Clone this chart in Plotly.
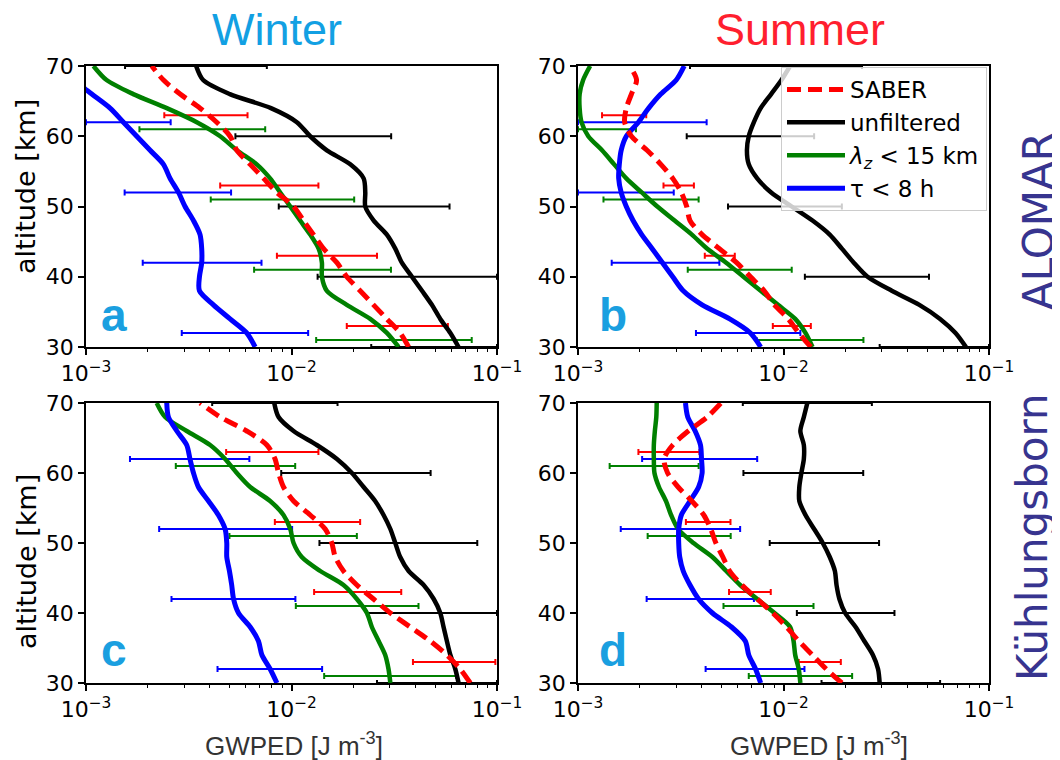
import numpy as np
import plotly.graph_objects as go

# altitude grid [km]
alt = [30, 32, 34, 36, 38, 40, 42, 44, 46, 48, 50, 52, 54, 56, 58, 60, 62, 64, 66, 68, 70]

# GWPED profiles, read as log10(GWPED [J m^-3]) from the log axis
# panel a: ALOMAR winter
a_saber = [-1.430, -1.471, -1.536, -1.601, -1.666, -1.731, -1.779, -1.844, -1.893, -1.942, -1.990,
           -2.071, -2.136, -2.201, -2.266, -2.299, -2.364, -2.445, -2.542, -2.623, -2.680]
a_unfilt = [-1.187, -1.227, -1.276, -1.317, -1.365, -1.414, -1.463, -1.495, -1.536, -1.600, -1.641,
            -1.641, -1.649, -1.714, -1.828, -1.909, -1.974, -2.100, -2.300, -2.430, -2.464]
a_lz = [-1.479, -1.536, -1.617, -1.731, -1.828, -1.852, -1.852, -1.868, -1.909, -1.958, -2.006,
        -2.055, -2.104, -2.169, -2.266, -2.347, -2.461, -2.607, -2.770, -2.900, -2.964]
a_tau = [-2.177, -2.218, -2.299, -2.380, -2.448, -2.448, -2.437, -2.437, -2.445, -2.477, -2.518,
         -2.550, -2.591, -2.623, -2.688, -2.753, -2.818, -2.883, -2.972, -3.060, -3.140]
# panel b: ALOMAR summer
b_saber = [-1.867, -1.926, -1.977, -2.044, -2.094, -2.161, -2.228, -2.312, -2.396, -2.455, -2.471,
           -2.497, -2.539, -2.597, -2.664, -2.740, -2.773, -2.765, -2.740, -2.715, -2.748]
b_unfilt = [-1.112, -1.163, -1.238, -1.339, -1.473, -1.591, -1.658, -1.716, -1.775, -1.859, -1.960,
            -2.060, -2.128, -2.169, -2.178, -2.169, -2.144, -2.111, -2.060, -2.010, -1.968]
b_lz = [-1.859, -1.893, -1.943, -2.027, -2.111, -2.195, -2.279, -2.371, -2.446, -2.530, -2.614,
        -2.690, -2.765, -2.824, -2.883, -2.950, -2.983, -2.992, -2.992, -2.975, -2.941]
b_tau = [-2.111, -2.161, -2.262, -2.396, -2.488, -2.539, -2.589, -2.639, -2.690, -2.732, -2.765,
         -2.790, -2.802, -2.799, -2.790, -2.765, -2.706, -2.656, -2.597, -2.522, -2.483]
# panel c: Kuehlungsborn winter
c_saber = [-1.130, -1.179, -1.244, -1.325, -1.422, -1.519, -1.601, -1.682, -1.747, -1.787, -1.804,
           -1.836, -1.909, -1.990, -2.039, -2.063, -2.080, -2.120, -2.218, -2.347, -2.445]
c_unfilt = [-1.187, -1.203, -1.227, -1.244, -1.260, -1.276, -1.308, -1.357, -1.430, -1.471, -1.495,
            -1.519, -1.552, -1.593, -1.649, -1.706, -1.779, -1.877, -1.990, -2.063, -2.084]
c_lz = [-1.519, -1.528, -1.544, -1.576, -1.609, -1.633, -1.682, -1.747, -1.860, -1.950, -1.990,
        -2.006, -2.039, -2.104, -2.201, -2.266, -2.323, -2.396, -2.510, -2.615, -2.656]
c_tau = [-2.071, -2.104, -2.144, -2.161, -2.201, -2.258, -2.282, -2.291, -2.302, -2.315, -2.315,
         -2.323, -2.356, -2.404, -2.453, -2.477, -2.494, -2.510, -2.558, -2.599, -2.607]
# panel d: Kuehlungsborn summer
d_saber = [-1.716, -1.792, -1.859, -1.926, -1.985, -2.052, -2.128, -2.203, -2.262, -2.295, -2.329,
           -2.354, -2.388, -2.446, -2.513, -2.564, -2.581, -2.539, -2.463, -2.371, -2.304]
d_unfilt = [-1.532, -1.540, -1.565, -1.607, -1.649, -1.700, -1.728, -1.742, -1.750, -1.775, -1.809,
            -1.851, -1.893, -1.923, -1.923, -1.913, -1.901, -1.901, -1.918, -1.901, -1.884]
d_lz = [-1.918, -1.926, -1.943, -1.951, -1.968, -2.044, -2.128, -2.211, -2.279, -2.346, -2.438,
        -2.513, -2.547, -2.572, -2.606, -2.628, -2.631, -2.631, -2.626, -2.619, -2.617]
d_tau = [-2.111, -2.136, -2.169, -2.186, -2.253, -2.346, -2.413, -2.455, -2.488, -2.505, -2.510,
         -2.510, -2.497, -2.455, -2.413, -2.396, -2.399, -2.404, -2.430, -2.466, -2.477]

# error-bar altitudes
err_alt_unfilt = [30, 40, 50, 60, 70]
err_alt_saber = [33, 43, 53, 63]
err_alt_lz = [31, 41, 51, 61]
err_alt_tau = [32, 42, 52, 62]

# error-bar ranges (log10 lower / upper); bars running off the axes end at the axis limit
a_unfilt_lo = [-1.612, -1.873, -2.062, -2.273, -2.810]; a_unfilt_hi = [-1.0, -1.0, -1.231, -1.515, -2.120]
a_saber_lo = [-1.731, -2.071, -2.347, -2.619]; a_saber_hi = [-1.239, -1.584, -1.869, -2.214]
a_lz_lo = [-1.880, -2.182, -2.393, -2.740]; a_lz_hi = [-1.123, -1.516, -1.695, -2.128]
a_tau_lo = [-2.534, -2.724, -2.812, -3.0]; a_tau_hi = [-1.919, -2.146, -2.294, -2.588]

b_unfilt_lo = [-1.532, -1.896, -2.270, -2.471, -2.455]; b_unfilt_hi = [-1.0, -1.292, -1.716, -1.851, -1.618]
b_saber_lo = [-2.052, -2.383, -2.584, -2.883]; b_saber_hi = [-1.867, -2.237, -2.436, -2.668]
b_lz_lo = [-2.131, -2.466, -2.876, -3.0]; b_lz_hi = [-1.611, -1.960, -2.413, -2.718]
b_tau_lo = [-2.426, -2.836, -3.0, -3.0]; b_tau_hi = [-1.918, -2.312, -2.534, -2.374]

c_unfilt_lo = [-1.584, -1.633, -1.864, -2.050, -2.386]; c_unfilt_hi = [-1.0, -1.0, -1.096, -1.323, -1.776]
c_saber_lo = [-1.409, -1.890, -2.081, -2.318]; c_saber_hi = [-1.008, -1.466, -1.666, -1.869]
c_lz_lo = [-1.841, -1.979, -2.302, -2.563]; c_lz_hi = [-1.198, -1.382, -1.682, -1.982]
c_tau_lo = [-2.360, -2.584, -2.644, -2.786]; c_tau_hi = [-1.851, -1.981, -1.997, -2.205]

d_unfilt_lo = [-1.815, -1.935, -2.067, -2.195, -2.198]; d_unfilt_hi = [-1.238, -1.460, -1.535, -1.612, -1.570]
d_saber_lo = [-1.926, -2.265, -2.475, -2.706]; d_saber_hi = [-1.721, -2.062, -2.258, -2.409]
d_lz_lo = [-2.169, -2.292, -2.661, -2.846]; d_lz_hi = [-1.666, -1.854, -2.257, -2.413]
d_tau_lo = [-2.379, -2.666, -2.792, -2.688]; d_tau_hi = [-1.898, -2.144, -2.211, -2.128]

series_names = ["SABER", "unfiltered", "<i>λ</i><sub><i>z</i></sub> &lt; 15 km", "τ &lt; 8 h"]
x_tickvals = [1e-3, 1e-2, 1e-1]
x_ticktext = ["10<sup>−3</sup>", "10<sup>−2</sup>", "10<sup>−1</sup>"]
y_tickvals = [30, 40, 50, 60, 70]

colors = {"saber": "#ff0000", "unfilt": "#000000", "lz": "#008000", "tau": "#0000ff"}

panels = {
    "a": dict(saber=a_saber, unfilt=a_unfilt, lz=a_lz, tau=a_tau,
              err=dict(unfilt=(a_unfilt_lo, a_unfilt_hi), saber=(a_saber_lo, a_saber_hi),
                       lz=(a_lz_lo, a_lz_hi), tau=(a_tau_lo, a_tau_hi))),
    "b": dict(saber=b_saber, unfilt=b_unfilt, lz=b_lz, tau=b_tau,
              err=dict(unfilt=(b_unfilt_lo, b_unfilt_hi), saber=(b_saber_lo, b_saber_hi),
                       lz=(b_lz_lo, b_lz_hi), tau=(b_tau_lo, b_tau_hi))),
    "c": dict(saber=c_saber, unfilt=c_unfilt, lz=c_lz, tau=c_tau,
              err=dict(unfilt=(c_unfilt_lo, c_unfilt_hi), saber=(c_saber_lo, c_saber_hi),
                       lz=(c_lz_lo, c_lz_hi), tau=(c_tau_lo, c_tau_hi))),
    "d": dict(saber=d_saber, unfilt=d_unfilt, lz=d_lz, tau=d_tau,
              err=dict(unfilt=(d_unfilt_lo, d_unfilt_hi), saber=(d_saber_lo, d_saber_hi),
                       lz=(d_lz_lo, d_lz_hi), tau=(d_tau_lo, d_tau_hi))),
}
err_alts = {"unfilt": err_alt_unfilt, "saber": err_alt_saber, "lz": err_alt_lz, "tau": err_alt_tau}
axis_ids = {"a": ("x", "y"), "b": ("x2", "y2"), "c": ("x3", "y3"), "d": ("x4", "y4")}

# page body has an 8px margin: the figure is shrunk and positions are shifted by it
OFF = 8
W, H = 1060 - OFF, 760 - OFF

def fx(x):
    return (x - OFF) / W

def fy(y):
    return 1 - (y - OFF) / H

fig = go.Figure()

for key, p in panels.items():
    xa, ya = axis_ids[key]
    # error bars first
    for s in ["unfilt", "lz", "tau", "saber"]:
        lo = 10 ** np.array(p["err"][s][0])
        hi = 10 ** np.array(p["err"][s][1])
        ctr = np.sqrt(lo * hi)
        fig.add_trace(go.Scatter(
            x=ctr, y=err_alts[s], xaxis=xa, yaxis=ya, mode="markers",
            marker=dict(size=1, color=colors[s], opacity=0), showlegend=False, hoverinfo="skip",
            error_x=dict(type="data", symmetric=False, array=hi - ctr, arrayminus=ctr - lo,
                         color=colors[s], thickness=2, width=3)))
    # profiles
    specs = [("unfilt", 1, dict(width=4.5)), ("lz", 2, dict(width=4.5)),
             ("tau", 3, dict(width=5)), ("saber", 0, dict(width=5, dash="14px,7px"))]
    for s, idx, lstyle in specs:
        fig.add_trace(go.Scatter(
            x=10 ** np.array(p[s]), y=alt, xaxis=xa, yaxis=ya, mode="lines",
            line=dict(color=colors[s], shape="spline", smoothing=0.8, **lstyle),
            name=series_names[idx], legendrank=idx + 1,
            showlegend=(key == "b"), hoverinfo="skip"))

minor_vals = [m * 10 ** e for e in (-3, -2) for m in range(2, 10)]

def xaxis_style(x0, x1, anchor):
    return dict(domain=[fx(x0), fx(x1)], anchor=anchor, type="log", range=[-3, -1],
                automargin=False,
                tickmode="array", tickvals=x_tickvals, ticktext=x_ticktext,
                ticks="outside", ticklen=6, tickwidth=1.5, tickcolor="black",
                showline=True, linecolor="black", linewidth=1.5, mirror=True,
                showgrid=False, zeroline=False,
                tickfont=dict(family="DejaVu Sans", size=22, color="black"),
                minor=dict(tickmode="array", tickvals=minor_vals, ticks="outside",
                           ticklen=3.5, tickwidth=1, tickcolor="black", showgrid=False))

def yaxis_style(ytop, ybot, anchor):
    return dict(domain=[fy(ybot), fy(ytop)], anchor=anchor, range=[30, 70],
                automargin=False,
                tickmode="array", tickvals=y_tickvals,
                ticks="outside", ticklen=6, tickwidth=1.5, tickcolor="black",
                showline=True, linecolor="black", linewidth=1.5, mirror=True,
                showgrid=False, zeroline=False,
                tickfont=dict(family="DejaVu Sans", size=22, color="black"))

L0, L1, R0, R1 = 86, 497, 578, 989
T0, T1, B0, B1 = 66, 347, 403, 683

fig.update_layout(
    width=W, height=H, margin=dict(l=0, r=0, t=0, b=0, pad=0, autoexpand=False),
    paper_bgcolor="white", plot_bgcolor="white",
    xaxis=xaxis_style(L0, L1, "y"), yaxis=yaxis_style(T0, T1, "x"),
    xaxis2=xaxis_style(R0, R1, "y2"), yaxis2=yaxis_style(T0, T1, "x2"),
    xaxis3=xaxis_style(L0, L1, "y3"), yaxis3=yaxis_style(B0, B1, "x3"),
    xaxis4=xaxis_style(R0, R1, "y4"), yaxis4=yaxis_style(B0, B1, "x4"),
    legend=dict(x=fx(987), y=fy(67), xanchor="right", yanchor="top",
                bgcolor="rgba(255,255,255,0.8)", bordercolor="#cccccc", borderwidth=1,
                font=dict(family="DejaVu Sans", size=23, color="black"),
                itemwidth=58, tracegroupgap=0),
    showlegend=True,
)

def ann(text, x, y, size, color, family, angle=0, bold=False):
    fig.add_annotation(text=f"<b>{text}</b>" if bold else text, x=fx(x), y=fy(y),
                       xref="paper", yref="paper", xanchor="center", yanchor="middle",
                       showarrow=False, textangle=angle,
                       font=dict(size=size, color=color, family=family))

ann("Winter", 277, 29, 45, "#12a0e3", "Liberation Sans")
ann("Summer", 800, 29, 45, "#ff1f2f", "Liberation Sans")
ann("ALOMAR", 1039, 221, 42, "#37348f", "DejaVu Sans", angle=-90)
ann("Kühlungsborn", 1032, 537, 42, "#37348f", "DejaVu Sans", angle=-90)
ann("altitude [km]", 26, 187, 27, "black", "DejaVu Sans", angle=-90)
ann("altitude [km]", 26, 562, 27, "black", "DejaVu Sans", angle=-90)
ann("GWPED [J m<sup>-3</sup>]", 294, 744, 26, "#333333", "Liberation Sans")
ann("GWPED [J m<sup>-3</sup>]", 819, 744, 26, "#333333", "Liberation Sans")
for lab, xc, yb in [("a", 114, 328), ("b", 613, 328), ("c", 114, 663), ("d", 613, 663)]:
    ann(lab, xc, yb - 13, 46, "#1a9fe0", "Liberation Sans", bold=True)

fig.write_html("out.html")
